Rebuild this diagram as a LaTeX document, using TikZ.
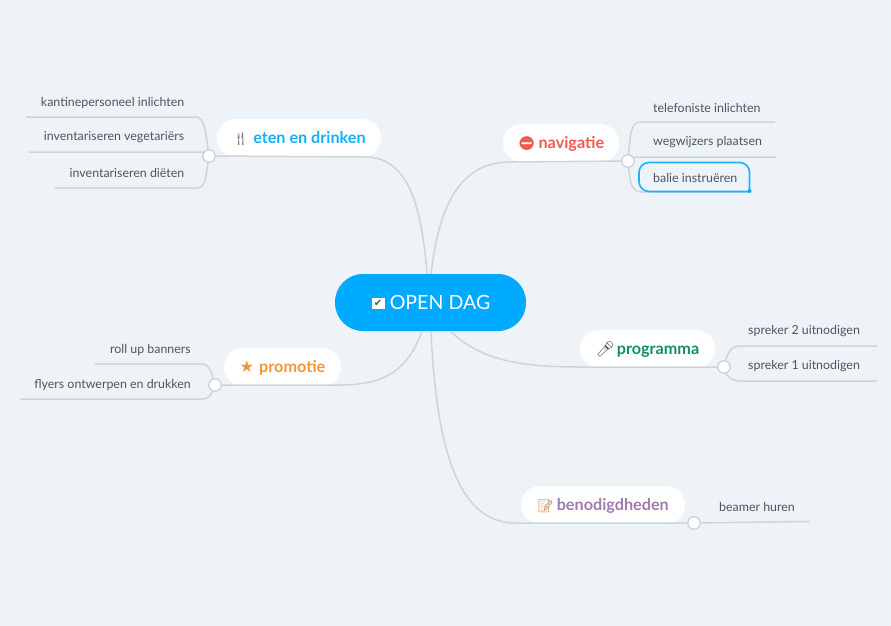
\documentclass[tikz,border=0pt]{standalone}
\usepackage{fontspec}
\setmainfont{Lato}
\newfontfamily\emojifont{Noto Emoji}
\newfontfamily\symbfont{DejaVu Sans}
\definecolor{bgblue}{HTML}{EEF3F8}
\definecolor{linegrey}{HTML}{CBD6DC}
\definecolor{leafgrey}{HTML}{4B5661}
\definecolor{daysky}{HTML}{00AAFF}
\definecolor{etensky}{HTML}{12B0FF}
\definecolor{navired}{HTML}{F0594F}
\definecolor{proggreen}{HTML}{12905F}
\definecolor{promoorange}{HTML}{F39539}
\definecolor{benpurple}{HTML}{A07CB0}
\tikzset{
	pill/.style={fill=white,rounded corners=18.9pt,minimum height=38pt,inner sep=0pt,text height=11pt,text depth=0pt,font=\bfseries\fontsize{16.2}{18}\selectfont},
	icon/.style={inner sep=0pt},
	leaf/.style={text=leafgrey,inner sep=0pt,font=\fontsize{12.4}{14}\selectfont},
	link/.style={draw=linegrey,line width=1.5pt},
	junction/.style={circle,fill=white,draw=linegrey,line width=1.4pt,minimum size=12.5pt,inner sep=0pt},
}
\begin{document}
\begin{tikzpicture}[x=1pt,y=-1pt]
	\fill[bgblue] (0,0) rectangle (891,626);
	\useasboundingbox (0,0) rectangle (891,626);
	\node[fill=daysky,rounded corners=28pt,minimum width=191pt,minimum height=57pt,text=white,inner sep=0pt,font=\fontsize{19.6}{22}\selectfont] (opendag) at (430.5,302.5) {\hspace{19pt}OPEN DAG};
	\node[fill=white,icon,minimum width=13pt,minimum height=11pt,text=leafgrey,font=\symbfont\fontsize{10}{10}\selectfont] (checkbox) at (378,303.5) {\char"2714};
	\node[pill,minimum width=164pt,text=etensky] (eten) at (299,138) {{\emojifont\fontsize{13}{13}\selectfont\color{gray}\char"1F374}\hspace{4.5pt}eten en drinken};
	\node[pill,minimum width=116pt,text=navired] (navigatie) at (561,143) {{\emojifont\fontsize{14}{14}\selectfont\char"26D4}\hspace{3pt}navigatie};
	\node[pill,minimum width=135pt,text=proggreen] (programma) at (647.5,349) {{\emojifont\fontsize{15}{15}\selectfont\color{leafgrey}\char"1F3A4}\hspace{2pt}programma};
	\node[pill,minimum width=117pt,text=promoorange] (promotie) at (282.5,367) {{\symbfont\char"2605}\hspace{5pt}promotie};
	\node[pill,minimum width=164pt,text=benpurple] (benodigdheden) at (603,505) {{\emojifont\fontsize{13}{13}\selectfont\color{promoorange!70!leafgrey}\char"1F4DD}\hspace{3pt}benodigdheden};
	\node[junction] (etenjun) at (209,156) {};
	\node[junction] (navjun) at (628,161) {};
	\node[junction] (progjun) at (724,367) {};
	\node[junction] (promojun) at (215,385) {};
	\node[junction] (benjun) at (694,523) {};
	\node[leaf,anchor=east] (kantine) at (184.5,102.5) {kantinepersoneel inlichten};
	\node[leaf,anchor=east] (vegetariers) at (184.5,137.5) {inventariseren vegetariërs};
	\node[leaf,anchor=east] (dieten) at (184.5,172.5) {inventariseren diëten};
	\node[leaf,anchor=west] (telefoniste) at (653,107.5) {telefoniste inlichten};
	\node[leaf,anchor=west] (wegwijzers) at (653,142.5) {wegwijzers plaatsen};
	\node[leaf,anchor=west] (balie) at (653,177.5) {balie instruëren};
	\node[leaf,anchor=west] (spreker2) at (748,331.5) {spreker 2 uitnodigen};
	\node[leaf,anchor=west] (spreker1) at (748,366.5) {spreker 1 uitnodigen};
	\node[leaf,anchor=east] (rollup) at (191,349.5) {roll up banners};
	\node[leaf,anchor=east] (flyers) at (191,384.5) {flyers ontwerpen en drukken};
	\node[leaf,anchor=west] (beamer) at (719,506.5) {beamer huren};
	\coordinate (kantineend) at (26,117);
	\coordinate (vegetarierend) at (29,152);
	\coordinate (dietenend) at (55,188);
	\coordinate (telefonisteend) at (775,122);
	\coordinate (wegwijzersend) at (776,157);
	\coordinate (balieend) at (750,192);
	\coordinate (spreker2end) at (877,346);
	\coordinate (spreker1end) at (877,381);
	\coordinate (rollupend) at (95,364);
	\coordinate (flyersend) at (20,399);
	\coordinate (beamerend) at (810,521.5);
	\draw[link] ([xshift=-3.5pt]opendag.north) .. controls (422,215) and (412,157) .. (365,157) to (etenjun);
	\draw[link] ([xshift=0.5pt]opendag.north) .. controls (438,215) and (455,162) .. (510,162) to (navjun);
	\draw[link] ([xshift=20pt]opendag.south) .. controls (480,360) and (520,367) .. (580,367) to (progjun);
	\draw[link] ([xshift=-8.5pt]opendag.south) .. controls (408,370) and (385,385) .. (340,385) to (promojun);
	\draw[link] ([xshift=0.5pt]opendag.south) .. controls (436,440) and (455,523) .. (515,523) to (benjun);
	\draw[link] (etenjun) .. controls (206,135) and (205,117) .. (196,117) to (kantineend);
	\draw[link] (etenjun) .. controls (205,153) and (204,152) .. (200,152) to (vegetarierend);
	\draw[link] (etenjun) .. controls (206,175) and (206,188) .. (197,188) to (dietenend);
	\draw[link] (navjun) .. controls (630,140) and (630,122) .. (640,122) to (telefonisteend);
	\draw[link] (navjun) .. controls (632,158) and (634,157) .. (640,157) to (wegwijzersend);
	\draw[link] (navjun) .. controls (630,180) and (630,192) .. (642,192) to (balieend);
	\draw[link] (progjun) .. controls (727,355) and (730,346) .. (740,346) to (spreker2end);
	\draw[link] (progjun) .. controls (727,375) and (730,381) .. (740,381) to (spreker1end);
	\draw[link] (promojun) .. controls (212,375) and (210,364) .. (202,364) to (rollupend);
	\draw[link] (promojun) .. controls (212,392) and (210,399) .. (202,399) to (flyersend);
	\draw[link] (benjun) to (beamerend);
	\draw[daysky!90!white,line width=1.6pt,rounded corners=10pt] (749.5,191.5) to (749.5,162.5) to (639,162.5) to (639,191.5) to (749.5,191.5);
	\fill[daysky] (749.5,191) circle (2pt);
\end{tikzpicture}
\end{document}
